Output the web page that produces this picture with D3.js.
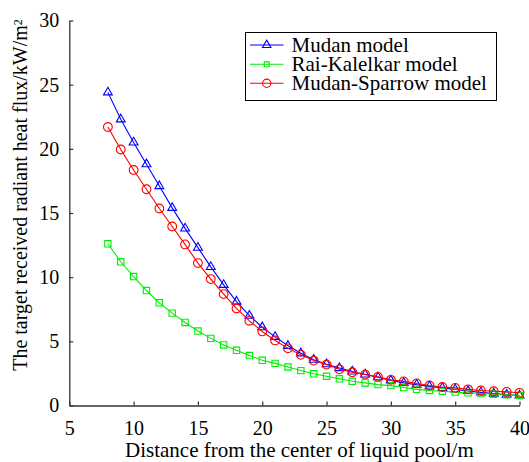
<!DOCTYPE html>
<html>
<head>
<meta charset="utf-8">
<script src="https://d3js.org/d3.v7.min.js"></script>
<style>
  body { margin: 0; background: #fff; }
  text { font-family: "Liberation Serif", "Times New Roman", serif; fill: #000; }
</style>
</head>
<body>
<script>
  // distance from pool centre (m)
  var distance = d3.range(8, 41);

  // radiant heat flux (kW/m2)
  var mudan = [24.4, 22.3, 20.5, 18.8, 17.1, 15.4, 13.8, 12.3, 10.8, 9.4, 8.1, 7.0, 6.1,
               5.35, 4.65, 4.07, 3.57, 3.22, 2.92, 2.65, 2.42, 2.2, 1.95, 1.76, 1.62,
               1.49, 1.37, 1.25, 1.13, 1.02, 0.93, 0.85, 0.78];
  var raiKalelkar = [12.6, 11.2, 10.05, 8.96, 8.0, 7.2, 6.47, 5.8, 5.23, 4.72, 4.3, 3.89, 3.52,
               3.28, 3.0, 2.72, 2.47, 2.28, 2.08, 1.89, 1.76, 1.63, 1.55, 1.4, 1.26,
               1.17, 1.11, 1.04, 0.99, 0.93, 0.88, 0.83, 0.78];
  var mudanSparrow = [21.7, 19.95, 18.35, 16.85, 15.35, 13.95, 12.55, 11.1, 9.85, 8.68, 7.56, 6.6, 5.77,
               5.07, 4.45, 3.95, 3.5, 3.19, 2.82, 2.59, 2.41, 2.23, 2.0, 1.88, 1.72,
               1.56, 1.44, 1.37, 1.26, 1.17, 1.11, 1.06, 0.99];

  var xTicks = [5, 10, 15, 20, 25, 30, 35, 40];
  var yTicks = [0, 5, 10, 15, 20, 25, 30];

  var seriesNames = ["Mudan model", "Rai-Kalelkar model", "Mudan-Sparrow model"];
  var seriesValues = [mudan, raiKalelkar, mudanSparrow];
  var seriesColors = ["#0000ff", "#00ee00", "#ff0000"];
  var seriesSymbols = [d3.symbolTriangle, d3.symbolSquare, d3.symbolCircle];
  var symbolSizes = [34, 40, 60];

  var W = 529, H = 462;
  var plotL = 69.3, plotR = 519.5, plotT = 20.5, plotB = 405.5;

  var svg = d3.select("body").append("svg")
      .attr("width", W)
      .attr("height", H);

  var x = d3.scaleLinear().domain([5, 40]).range([plotL, plotR]);
  var y = d3.scaleLinear().domain([0, 30]).range([plotB, plotT]);

  // axes (ticks point inward, no box)
  var xAxis = svg.append("g")
      .attr("transform", "translate(0," + plotB + ")")
      .call(d3.axisBottom(x).tickValues(xTicks).tickSizeInner(-4).tickSizeOuter(0).tickPadding(10));
  var yAxis = svg.append("g")
      .attr("transform", "translate(" + plotL + ",0)")
      .call(d3.axisLeft(y).tickValues(yTicks).tickSizeInner(-4).tickSizeOuter(0).tickPadding(10));

  [xAxis, yAxis].forEach(function(a) {
    a.select(".domain").attr("stroke", "#333").attr("stroke-width", 1.3);
    a.selectAll(".tick line").attr("stroke", "#333").attr("stroke-width", 1.2);
    a.selectAll(".tick text")
      .style("font-family", "'Liberation Serif', serif")
      .style("font-size", "20px")
      .attr("fill", "#000");
  });
  xAxis.selectAll(".tick text").attr("dy", "0.95em");

  // series
  seriesValues.forEach(function(vals, i) {
    var pts = distance.map(function(d, j) { return [d, vals[j]]; });
    var g = svg.append("g");
    g.append("path")
      .datum(pts)
      .attr("fill", "none")
      .attr("stroke", seriesColors[i])
      .attr("stroke-width", 1.1)
      .attr("d", d3.line().x(function(p) { return x(p[0]); }).y(function(p) { return y(p[1]); }));
    g.selectAll(".m")
      .data(pts)
      .enter().append("path")
      .attr("transform", function(p) { return "translate(" + x(p[0]) + "," + y(p[1]) + ")"; })
      .attr("d", d3.symbol().type(seriesSymbols[i]).size(symbolSizes[i]))
      .attr("fill", "none")
      .attr("stroke", seriesColors[i])
      .attr("stroke-width", 1.1);
  });

  // axis titles
  svg.append("text")
      .attr("x", (plotL + plotR) / 2 + 5)
      .attr("y", 457)
      .attr("text-anchor", "middle")
      .style("font-size", "21px")
      .text("Distance from the center of liquid pool/m");

  var yt = svg.append("text")
      .attr("transform", "translate(27," + 195 + ")rotate(-90)")
      .attr("text-anchor", "middle")
      .style("font-size", "20px")
      .text("The target received radiant heat flux/kW/m");
  yt.append("tspan")
      .attr("dy", "-0.45em")
      .style("font-size", "12px")
      .text("2");

  // legend
  var lg = svg.append("g");
  lg.append("rect")
      .attr("x", 245.5).attr("y", 32.5)
      .attr("width", 251).attr("height", 68)
      .attr("fill", "#fff")
      .attr("stroke", "#000")
      .attr("stroke-width", 1);
  var rowY = [45, 64.3, 83.3];
  seriesNames.forEach(function(name, i) {
    lg.append("line")
      .attr("x1", 250).attr("x2", 283.5)
      .attr("y1", rowY[i]).attr("y2", rowY[i])
      .attr("stroke", seriesColors[i]).attr("stroke-width", 1.1);
    lg.append("path")
      .attr("transform", "translate(266.7," + rowY[i] + ")")
      .attr("d", d3.symbol().type(seriesSymbols[i]).size(i === 1 ? 24 : symbolSizes[i] * 0.9))
      .attr("fill", "none")
      .attr("stroke", seriesColors[i]).attr("stroke-width", 1.1);
    lg.append("text")
      .attr("x", 291.5)
      .attr("y", rowY[i])
      .attr("dy", "0.33em")
      .style("font-size", "21px")
      .text(name);
  });
</script>
</body>
</html>
